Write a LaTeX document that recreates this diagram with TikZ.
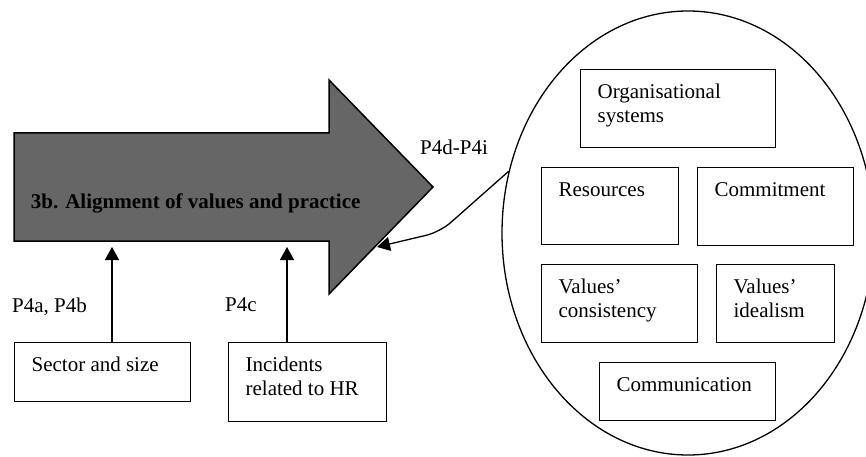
\documentclass[tikz,border=0pt]{standalone}
\usepackage{fontspec}
\setmainfont{Liberation Serif}
\usetikzlibrary{shapes.geometric,arrows.meta}
\definecolor{arrowfill}{RGB}{102,102,102}
% fixed-size box content: text set from the top-left corner
\newcommand{\cellbox}[3]{\parbox[c][#2][t]{#1}{\vspace*{11.5pt}\leftskip=17pt\strut#3}}
\tikzset{
  txt/.style={font=\fontsize{21}{24.5}\selectfont, inner sep=0pt},
  cell/.style={txt, draw, line width=1.2pt, anchor=north west},
  conn/.style={line width=1.3pt, -{Triangle[length=13pt,width=14pt]}},
  bigarrow/.style={draw, line width=1.5pt, fill=arrowfill, line join=miter},
  group/.style={draw, ellipse, line width=1.3pt, inner sep=0pt}
}
\begin{document}
\begin{tikzpicture}[x=1pt,y=-1pt]
\useasboundingbox (0,0) rectangle (866,457);
\clip (0,0) rectangle (866,457);

% block arrow
\draw[bigarrow] (14,133) -- (329,133) -- (329,80) -- (433,187) -- (329,294) -- (329,241) -- (14,241) -- cycle;
\node[txt, anchor=base west, font=\fontsize{21}{24.5}\selectfont\bfseries] (main) at (30.7,208) {3b. Alignment of values and practice};

% entry points on the block arrow
\coordinate (inA) at (112,247);
\coordinate (inB) at (287,247);
\coordinate (inC) at (377,247);
\coordinate (bend) at (440,232);

% lower factors
\node[cell] (sector) at (14,342) {\cellbox{176pt}{59pt}{Sector and size}};
\node[cell] (incid) at (228,342) {\cellbox{158pt}{79pt}{Incidents\\related to HR}};

\draw[conn] (sector.north -| inA) -- (inA);
\draw[conn] (incid.north -| inB) -- (inB);

\node[txt, anchor=base west] (pab) at (12,312) {P4a, P4b};
\node[txt, anchor=base west] (pc) at (225,311) {P4c};
\node[txt, anchor=base west] (pdi) at (420,154) {P4d-P4i};

% organisational factors
\node[group, minimum width=372pt, minimum height=444pt] (grp) at (688,233) {};
\node[cell] (org) at (580,69) {\cellbox{195pt}{78pt}{Organisational\\systems}};
\node[cell] (res) at (541,167) {\cellbox{137pt}{77pt}{Resources}};
\node[cell] (com) at (697,167) {\cellbox{156pt}{78pt}{Commitment}};
\node[cell] (vcons) at (541,264) {\cellbox{156pt}{78pt}{Values’\\consistency}};
\node[cell] (videal) at (716,264) {\cellbox{118pt}{78pt}{Values’\\idealism}};
\node[cell] (comm) at (599,362) {\cellbox{176pt}{58pt}{Communication}};

\draw[conn, rounded corners=14pt] (grp.161) -- (bend) -- (inC);
\end{tikzpicture}
\end{document}
